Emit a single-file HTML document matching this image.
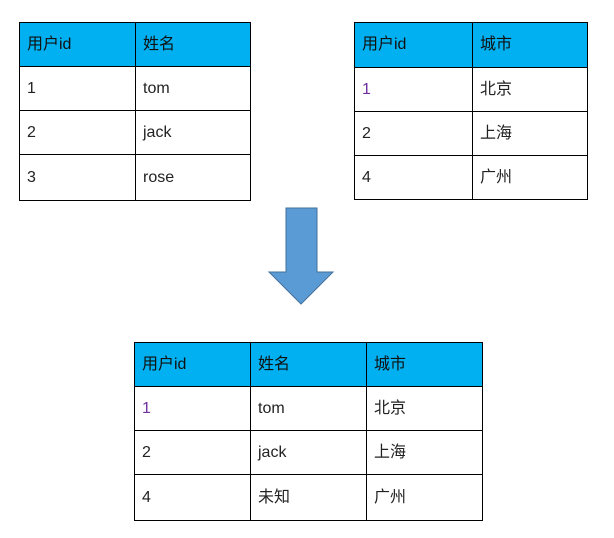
<!DOCTYPE html>
<html><head><meta charset="utf-8"><style>
body{margin:0;width:614px;height:538px;background:#fff;position:relative;overflow:hidden;font-family:"Liberation Sans","Noto Sans CJK SC",sans-serif;}
.c{position:absolute;box-sizing:border-box;border:1.5px solid #000;font-size:16px;color:#222;padding-left:7px;display:flex;align-items:center;line-height:16px;}
.h{background:#00b0f0;color:#111;}
</style></head><body>
<div>
<div class="c h" style="left:19px;top:22px;width:117px;height:45px">用户id</div>
<div class="c h" style="left:135px;top:22px;width:116px;height:45px">姓名</div>
<div class="c" style="left:19px;top:66px;width:117px;height:45px">1</div>
<div class="c" style="left:135px;top:66px;width:116px;height:45px">tom</div>
<div class="c" style="left:19px;top:110px;width:117px;height:45px">2</div>
<div class="c" style="left:135px;top:110px;width:116px;height:45px">jack</div>
<div class="c" style="left:19px;top:154px;width:117px;height:47px">3</div>
<div class="c" style="left:135px;top:154px;width:116px;height:47px">rose</div>
</div>
<div>
<div class="c h" style="left:354px;top:22px;width:119px;height:46px">用户id</div>
<div class="c h" style="left:472px;top:22px;width:116px;height:46px">城市</div>
<div class="c" style="left:354px;top:67px;width:119px;height:45px;color:#7030a0">1</div>
<div class="c" style="left:472px;top:67px;width:116px;height:45px">北京</div>
<div class="c" style="left:354px;top:111px;width:119px;height:45px">2</div>
<div class="c" style="left:472px;top:111px;width:116px;height:45px">上海</div>
<div class="c" style="left:354px;top:155px;width:119px;height:45px">4</div>
<div class="c" style="left:472px;top:155px;width:116px;height:45px">广州</div>
</div>
<svg style="position:absolute;left:0;top:0" width="614" height="538">
<polygon points="286,208 317,208 317,272 333,272 301,304 269,272 286,272" fill="#5b9bd5" stroke="#41719c" stroke-width="1"/>
</svg>
<div>
<div class="c h" style="left:134px;top:342px;width:117px;height:45px">用户id</div>
<div class="c h" style="left:250px;top:342px;width:117px;height:45px">姓名</div>
<div class="c h" style="left:366px;top:342px;width:117px;height:45px">城市</div>
<div class="c" style="left:134px;top:386px;width:117px;height:45px;color:#7030a0">1</div>
<div class="c" style="left:250px;top:386px;width:117px;height:45px">tom</div>
<div class="c" style="left:366px;top:386px;width:117px;height:45px">北京</div>
<div class="c" style="left:134px;top:430px;width:117px;height:45px">2</div>
<div class="c" style="left:250px;top:430px;width:117px;height:45px">jack</div>
<div class="c" style="left:366px;top:430px;width:117px;height:45px">上海</div>
<div class="c" style="left:134px;top:474px;width:117px;height:47px">4</div>
<div class="c" style="left:250px;top:474px;width:117px;height:47px">未知</div>
<div class="c" style="left:366px;top:474px;width:117px;height:47px">广州</div>
</div>
</body></html>
